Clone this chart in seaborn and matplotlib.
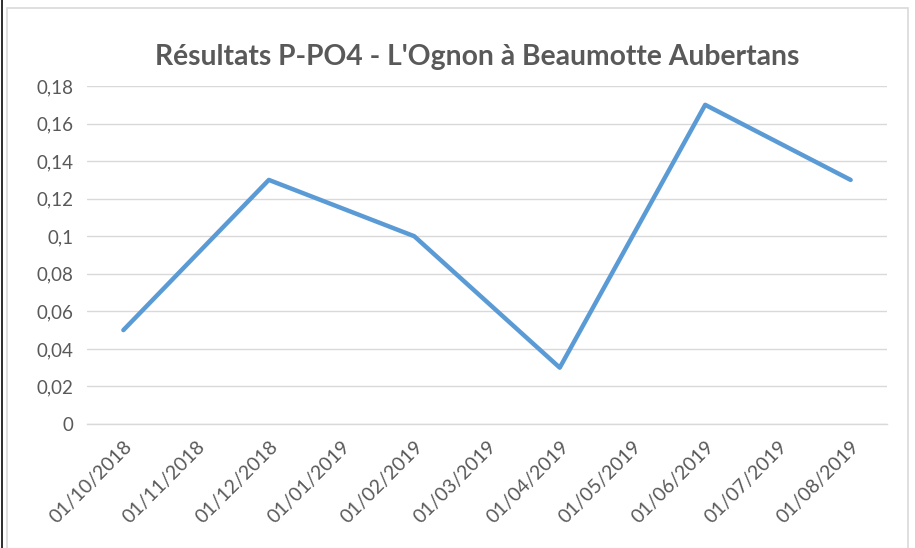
import matplotlib
matplotlib.use('Agg')
import matplotlib.pyplot as plt
import matplotlib.ticker as mticker
from matplotlib.patches import Rectangle
import pandas as pd
import seaborn as sns

# axe des catégories (dates) et mesures
dates = ['01/10/2018', '01/11/2018', '01/12/2018', '01/01/2019', '01/02/2019',
         '01/03/2019', '01/04/2019', '01/05/2019', '01/06/2019', '01/07/2019',
         '01/08/2019']
dates_mesure = ['01/10/2018', '01/12/2018', '01/02/2019', '01/04/2019',
                '01/06/2019', '01/08/2019']
ppo4 = [0.05, 0.13, 0.10, 0.03, 0.17, 0.13]
yticks = [0, 0.02, 0.04, 0.06, 0.08, 0.10, 0.12, 0.14, 0.16, 0.18]

df = pd.DataFrame({'date': dates_mesure, 'ppo4': ppo4})
df['pos'] = df['date'].map(dates.index)

sns.set_style('white')
plt.rcParams['font.family'] = ['Lato', 'DejaVu Sans']

gris = '#595959'
grille = '#D9D9D9'

fig = plt.figure(figsize=(9.15, 5.48), dpi=100)
ax = fig.add_axes([0.0951, 0.2263, 0.8743, 0.6167])

sns.lineplot(data=df, x='pos', y='ppo4', ax=ax, color='#5B9BD5', linewidth=3.2)

ax.set_xlim(-0.5, len(dates) - 0.5)
ax.set_ylim(0, 0.18)
ax.set_yticks(yticks)
ax.yaxis.set_major_formatter(mticker.FuncFormatter(lambda v, p: f'{v:g}'.replace('.', ',')))
ax.grid(axis='y', color=grille, linewidth=1)
ax.set_axisbelow(True)

ax.set_xticks(range(len(dates)))
ax.set_xticklabels(dates, rotation=45, ha='right', rotation_mode='anchor')
ax.set_xticks([i - 0.5 for i in range(len(dates) + 1)], minor=True)
ax.tick_params(axis='x', which='major', length=0, pad=10, labelsize=14, labelcolor=gris)
ax.tick_params(axis='x', which='minor', length=7, color=grille, width=1, direction='out')
ax.tick_params(axis='y', length=0, pad=10, labelsize=13.5, labelcolor=gris)

for s in ['top', 'right', 'left']:
    ax.spines[s].set_visible(False)
ax.spines['bottom'].set_color(grille)
ax.spines['bottom'].set_linewidth(1)

ax.set_xlabel('')
ax.set_ylabel('')

fig.text(0.522, 0.896, "Résultats P-PO4 - L'Ognon à Beaumotte Aubertans",
         ha='center', va='center', fontsize=20.3, fontweight='bold', color=gris)

# cadre de la zone de graphique
fig.patches.append(Rectangle((0.008, -0.01), 0.984, 0.995, transform=fig.transFigure,
                             fill=False, edgecolor=grille, linewidth=1.2))
fig.patches.append(Rectangle((0.001, -0.01), 0.0025, 1.1, transform=fig.transFigure,
                             facecolor='#333333', edgecolor='none'))

fig.savefig('out.png', dpi=100, facecolor='white')
